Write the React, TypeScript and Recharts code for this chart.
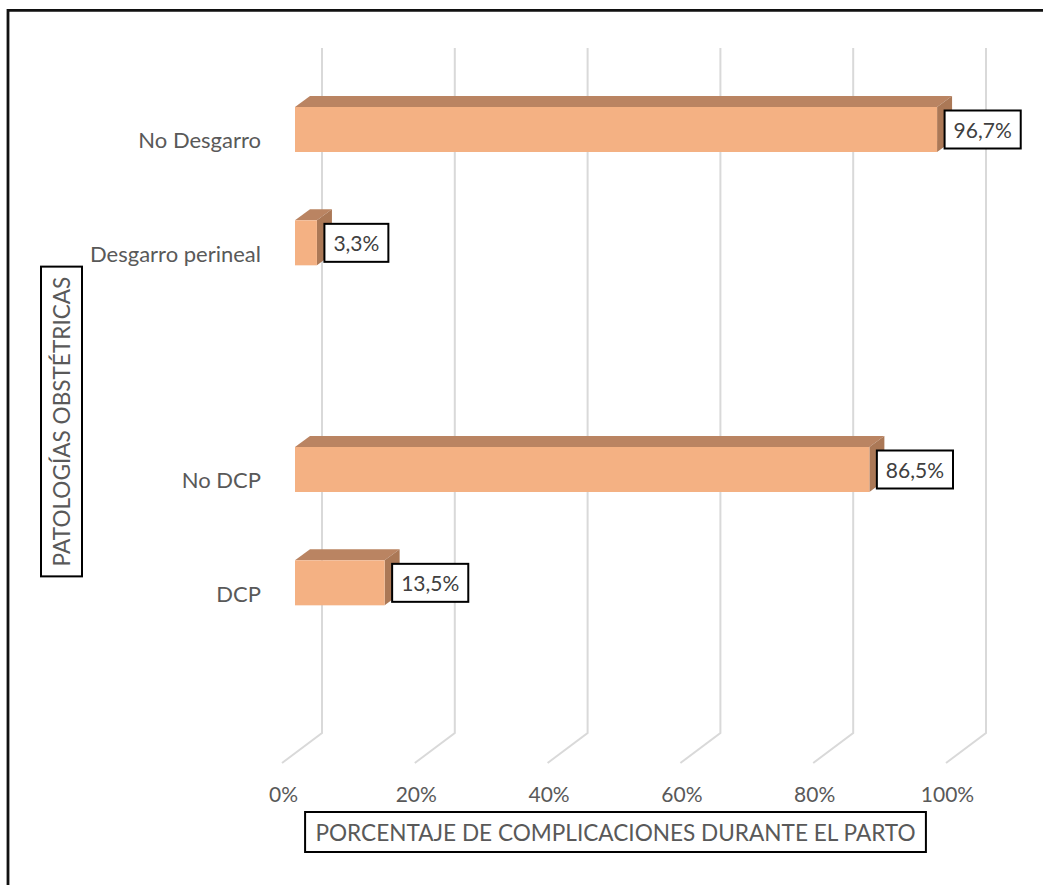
import React from "react";
import { BarChart, Bar, XAxis, YAxis, CartesianGrid, LabelList } from "recharts";

// ---------- data ----------
const categories = ["No Desgarro", "Desgarro perineal", "", "No DCP", "DCP", ""];
const values: (number | null)[] = [96.7, 3.3, null, 86.5, 13.5, null];
const xTicks = [0, 20, 40, 60, 80, 100];
const xTitle = "PORCENTAJE DE COMPLICACIONES DURANTE EL PARTO";
const yTitle = "PATOLOGÍAS OBSTÉTRICAS";

const data = categories.map((name, i) => ({ key: `c${i}`, name, value: values[i] }));

// ---------- styling / layout ----------
const W = 1043;
const H = 885;
const FONT = "Lato, 'Open Sans', sans-serif";
const TXT = "#595959";
const FRONT = "#F4B183";
const TOP = "#BA8462";
const SIDE = "#AB7856";
const GRID = "#D9D9D9";
const DEPTH_X = 15;
const DEPTH_Y = 11;
const BACK_DX = 27;
const FLOOR_DX = -13;
const BACK_TOP = 48;
const BACK_BOTTOM = 733;
const FLOOR_FRONT = 763;

const fmtPct = (v: number) => v.toFixed(1).replace(".", ",") + "%";

let ctx: CanvasRenderingContext2D | null = null;
const measure = (t: string, font: string) => {
  if (!ctx) ctx = document.createElement("canvas").getContext("2d");
  if (!ctx) return t.length * 11;
  ctx.font = font;
  return ctx.measureText(t).width;
};

const GridLine = (props: any) => {
  const x = props.x1;
  return (
    <path
      key={`grid-${props.index}`}
      d={`M${x + BACK_DX},${BACK_TOP} L${x + BACK_DX},${BACK_BOTTOM} L${x + FLOOR_DX},${FLOOR_FRONT}`}
      stroke={GRID}
      strokeWidth={2}
      fill="none"
    />
  );
};

const Bar3D = (props: any) => {
  const { x, y, width, height } = props;
  if (!width || width <= 0) return <g />;
  return (
    <g>
      <polygon
        points={`${x},${y} ${x + DEPTH_X},${y - DEPTH_Y} ${x + width + DEPTH_X},${y - DEPTH_Y} ${x + width},${y}`}
        fill={TOP}
      />
      <polygon
        points={`${x + width},${y} ${x + width + DEPTH_X},${y - DEPTH_Y} ${x + width + DEPTH_X},${y + height - DEPTH_Y} ${x + width},${y + height}`}
        fill={SIDE}
      />
      <rect x={x} y={y} width={width} height={height} fill={FRONT} />
    </g>
  );
};

const ValueLabel = (props: any) => {
  const { x, y, width, height, value } = props;
  if (value == null || !width) return null;
  const txt = fmtPct(Number(value));
  const size = 21;
  const tw = measure(txt, `${size}px Lato`);
  const bw = tw + 18;
  const bh = 38;
  const bx = x + width + 7.5;
  const cy = y + height / 2;
  return (
    <g>
      <rect x={bx} y={cy - bh / 2} width={bw} height={bh} fill="#fff" stroke="#000" strokeWidth={2} />
      <text
        x={bx + bw / 2}
        y={cy}
        textAnchor="middle"
        dominantBaseline="central"
        fontFamily={FONT}
        fontSize={size}
        fill="#404040"
      >
        {txt}
      </text>
    </g>
  );
};

const YTick = (props: any) => {
  const { y, payload } = props;
  const row = data.find((d) => d.key === payload.value);
  if (!row || !row.name) return <g />;
  return (
    <text
      x={261}
      y={y + 10}
      textAnchor="end"
      dominantBaseline="central"
      fontFamily={FONT}
      fontSize={22}
      fill={TXT}
    >
      {row.name}
    </text>
  );
};

const XTick = (props: any) => {
  const { x, payload } = props;
  return (
    <text
      x={x - 11.5}
      y={793}
      textAnchor="middle"
      dominantBaseline="central"
      fontFamily={FONT}
      fontSize={21}
      fill={TXT}
    >
      {`${payload.value}%`}
    </text>
  );
};

const TitleX = () => {
  const size = 22.6;
  const tw = measure(xTitle, `${size}px Lato`);
  const cx = 615.5;
  const cy = 832;
  const bw = tw + 20;
  return (
    <g>
      <rect x={cx - bw / 2} y={cy - 20} width={bw} height={40} fill="#fff" stroke="#000" strokeWidth={2} />
      <text x={cx} y={cy} textAnchor="middle" dominantBaseline="central" fontFamily={FONT} fontSize={size} fill={TXT}>
        {xTitle}
      </text>
    </g>
  );
};

const TitleY = () => {
  const size = 22.6;
  const tw = measure(yTitle, `${size}px Lato`);
  const cx = 61.5;
  const cy = 421.5;
  const bl = tw + 20;
  return (
    <g>
      <rect x={cx - 20.5} y={cy - bl / 2} width={41} height={bl} fill="#fff" stroke="#000" strokeWidth={2} />
      <text
        x={cx}
        y={cy}
        transform={`rotate(-90 ${cx} ${cy})`}
        textAnchor="middle"
        dominantBaseline="central"
        fontFamily={FONT}
        fontSize={size}
        fill={TXT}
      >
        {yTitle}
      </text>
    </g>
  );
};

export default function App() {
  return (
    <div style={{ position: "absolute", left: 0, top: 0, width: W, height: H, overflow: "hidden", background: "#fff" }}>
      <BarChart
        width={W}
        height={H}
        data={data}
        layout="vertical"
        margin={{ top: 73, right: 84, bottom: 72, left: 0 }}
        barSize={45}
      >
        <CartesianGrid horizontal={false} vertical={GridLine} />
        <XAxis
          type="number"
          domain={[0, 100]}
          ticks={xTicks}
          axisLine={false}
          tickLine={false}
          height={60}
          tick={<XTick />}
          interval={0}
        />
        <YAxis
          type="category"
          dataKey="key"
          width={295}
          axisLine={false}
          tickLine={false}
          tick={<YTick />}
          interval={0}
        />
        <Bar dataKey="value" isAnimationActive={false} shape={<Bar3D />}>
          <LabelList dataKey="value" content={<ValueLabel />} />
        </Bar>
      </BarChart>
      <svg width={W} height={H} style={{ position: "absolute", left: 0, top: 0, pointerEvents: "none" }}>
        <path d={`M8,${H} V10.3 H${W}`} stroke="#111" strokeWidth={2.8} fill="none" />
        <TitleX />
        <TitleY />
      </svg>
    </div>
  );
}
